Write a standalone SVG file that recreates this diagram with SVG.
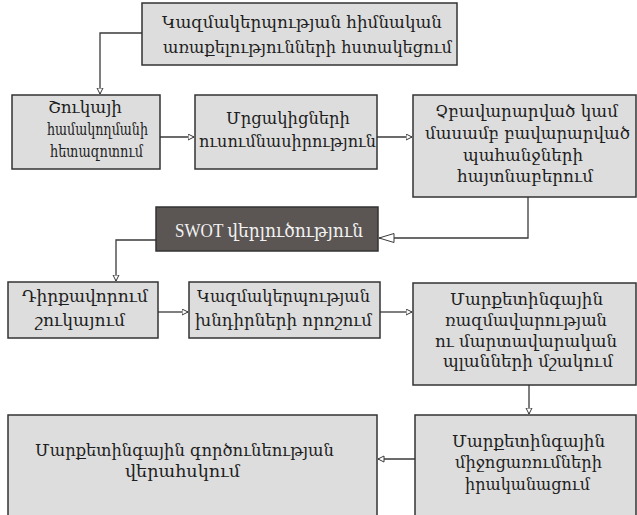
<svg xmlns="http://www.w3.org/2000/svg" width="637" height="515" viewBox="0 0 637 515">
<style>
.box{fill:#dddddd;stroke:#333333;stroke-width:1.5}
.dark{fill:#5b5654;stroke:#333333;stroke-width:1.5}
.t{font-family:"DejaVu Serif Condensed","DejaVu Serif",serif;font-size:17px;fill:#1e1e1e}
.tw{font-family:"Liberation Serif","DejaVu Serif",serif;font-size:18px;fill:#f2f2f2}
.ln{fill:none;stroke:#3a3a3a;stroke-width:1.3}
.ah{fill:#ffffff;stroke:#3a3a3a;stroke-width:1}
</style>
<defs>
<marker id="arr" markerWidth="8" markerHeight="8" refX="6.5" refY="3.5" orient="auto" markerUnits="userSpaceOnUse">
<path d="M0.5,0.5 L6.5,3.5 L0.5,6.5 Z" class="ah"/>
</marker>
<marker id="big" markerWidth="18" markerHeight="12" refX="16" refY="5.5" orient="auto" markerUnits="userSpaceOnUse">
<path d="M1,1 L16,5.5 L1,10 Z" class="ah"/>
</marker>
</defs>

<g id="connectors">
<path class="ln" d="M142,33 H100 V94" marker-end="url(#arr)"/>
<path class="ln" d="M160,137 H194" marker-end="url(#arr)"/>
<path class="ln" d="M377,137 H412" marker-end="url(#arr)"/>
<path class="ln" d="M528,197 V238 H379" marker-end="url(#big)"/>
<path class="ln" d="M156,240 H116 V281" marker-end="url(#arr)"/>
<path class="ln" d="M158,312 H188" marker-end="url(#arr)"/>
<path class="ln" d="M380,312 H412" marker-end="url(#arr)"/>
<path class="ln" d="M529,385 V414" marker-end="url(#arr)"/>
<path class="ln" d="M415,459 H378" marker-end="url(#arr)"/>
</g>

<g id="n1">
<rect class="box" x="142" y="3" width="315" height="62"/>
<text class="t" x="162" y="28" textLength="280" lengthAdjust="spacingAndGlyphs">Կազմակերպության հիմնական</text>
<text class="t" x="163" y="53" textLength="289" lengthAdjust="spacingAndGlyphs">առաքելությունների հստակեցում</text>
</g>

<g id="n2">
<rect class="box" x="12" y="95" width="148" height="74"/>
<text class="t" x="48" y="113" textLength="74" lengthAdjust="spacingAndGlyphs">Շուկայի</text>
<text class="t" x="47" y="135" textLength="101" lengthAdjust="spacingAndGlyphs">համակողմանի</text>
<text class="t" x="50" y="157" textLength="93" lengthAdjust="spacingAndGlyphs">հետազոտում</text>
</g>

<g id="n3">
<rect class="box" x="195" y="95" width="182" height="74"/>
<text class="t" x="226" y="124" textLength="124" lengthAdjust="spacingAndGlyphs">Մրցակիցների</text>
<text class="t" x="199" y="147" textLength="177" lengthAdjust="spacingAndGlyphs">ուսումնասիրություն</text>
</g>

<g id="n4">
<rect class="box" x="413" y="95" width="223" height="102"/>
<text class="t" x="435" y="117" textLength="183" lengthAdjust="spacingAndGlyphs">Չբավարարված կամ</text>
<text class="t" x="425" y="139" textLength="205" lengthAdjust="spacingAndGlyphs">մասամբ բավարարված</text>
<text class="t" x="463" y="161" textLength="120" lengthAdjust="spacingAndGlyphs">պահանջների</text>
<text class="t" x="457" y="182" textLength="136" lengthAdjust="spacingAndGlyphs">հայտնաբերում</text>
</g>

<g id="n5">
<rect class="dark" x="156" y="207" width="222" height="44"/>
<text class="tw" x="175" y="237" textLength="188" lengthAdjust="spacingAndGlyphs">SWOT վերլուծություն</text>
</g>

<g id="n6">
<rect class="box" x="8" y="282" width="150" height="56"/>
<text class="t" x="22" y="302" textLength="126" lengthAdjust="spacingAndGlyphs">Դիրքավորում</text>
<text class="t" x="35" y="326" textLength="90" lengthAdjust="spacingAndGlyphs">շուկայում</text>
</g>

<g id="n7">
<rect class="box" x="189" y="282" width="191" height="56"/>
<text class="t" x="197" y="302" textLength="173" lengthAdjust="spacingAndGlyphs">Կազմակերպության</text>
<text class="t" x="195" y="326" textLength="177" lengthAdjust="spacingAndGlyphs">խնդիրների որոշում</text>
</g>

<g id="n8">
<rect class="box" x="413" y="283" width="223" height="102"/>
<text class="t" x="450" y="305" textLength="153" lengthAdjust="spacingAndGlyphs">Մարքետինգային</text>
<text class="t" x="445" y="326" textLength="162" lengthAdjust="spacingAndGlyphs">ռազմավարության</text>
<text class="t" x="435" y="347" textLength="182" lengthAdjust="spacingAndGlyphs">ու մարտավարական</text>
<text class="t" x="443" y="367" textLength="170" lengthAdjust="spacingAndGlyphs">պլանների մշակում</text>
</g>

<g id="n9">
<rect class="box" x="415" y="415" width="221" height="105"/>
<text class="t" x="452" y="447" textLength="153" lengthAdjust="spacingAndGlyphs">Մարքետինգային</text>
<text class="t" x="455" y="468" textLength="147" lengthAdjust="spacingAndGlyphs">միջոցառումների</text>
<text class="t" x="465" y="490" textLength="125" lengthAdjust="spacingAndGlyphs">իրականացում</text>
</g>

<g id="n10">
<rect class="box" x="8" y="415" width="369" height="105"/>
<text class="t" x="35" y="456" textLength="299" lengthAdjust="spacingAndGlyphs">Մարքետինգային գործունեության</text>
<text class="t" x="125" y="477" textLength="115" lengthAdjust="spacingAndGlyphs">վերահսկում</text>
</g>
</svg>
